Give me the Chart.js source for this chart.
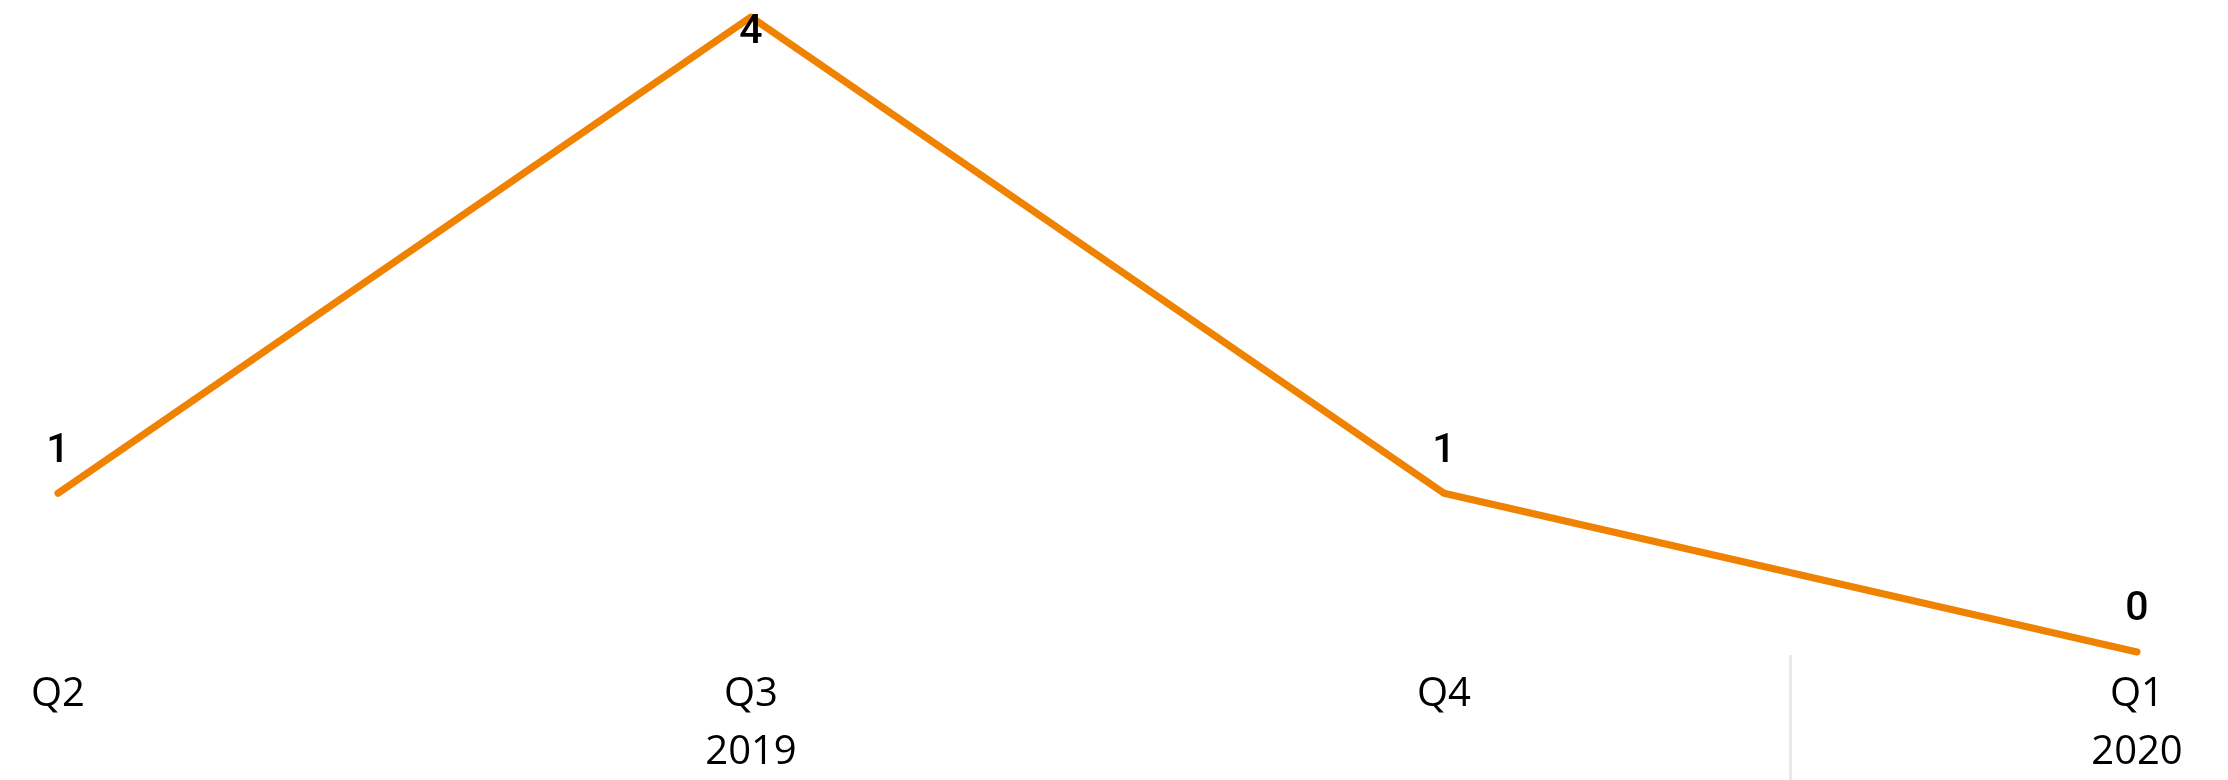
<!DOCTYPE html>
<html>
<head>
<meta charset="utf-8">
<script src="https://cdn.jsdelivr.net/npm/chart.js@4/dist/chart.umd.min.js"></script>
<style>
  html, body { margin: 0; padding: 0; background: #fff; }
  #wrap { width: 2228px; height: 780px; }
</style>
</head>
<body>
<div id="wrap"><canvas id="QuarterTrend"></canvas></div>
<script>
const quarters = ["Q2", "Q3", "Q4", "Q1"]
const quarterYears = ["2019", "2019", "2019", "2020"]
const counts = [1, 4, 1, 0]

const lineColor = "#EF8200"

// year shown once, under the middle quarter of its group
const yearRow = quarters.map((q, i) => {
    const yr = quarterYears[i]
    const idx = quarterYears.map((y, j) => y === yr ? j : -1).filter(j => j >= 0)
    const mid = idx[Math.floor((idx.length - 1) / 2)]
    return i === mid ? yr : ""
})

// value labels above each point, kept inside the canvas
const valueLabels = {
    id: "valueLabels",
    afterDatasetsDraw(chart) {
        const ctx = chart.ctx
        const meta = chart.getDatasetMeta(0)
        ctx.save()
        ctx.font = "500 41px Roboto"
        ctx.fillStyle = "#000"
        ctx.textAlign = "center"
        ctx.textBaseline = "middle"
        meta.data.forEach((pt, i) => {
            const y = Math.max(pt.y - 42, 33)
            ctx.fillText(String(counts[i]), pt.x, y)
        })
        ctx.restore()
    }
}

// thin divider where the year changes, under the plot
const yearDivider = {
    id: "yearDivider",
    afterDraw(chart) {
        const ctx = chart.ctx
        const x = chart.scales.x
        ctx.save()
        ctx.strokeStyle = "#E9E9E9"
        ctx.lineWidth = 3
        quarterYears.forEach((yr, i) => {
            if (i > 0 && yr !== quarterYears[i - 1]) {
                const px = (x.getPixelForValue(i - 1) + x.getPixelForValue(i)) / 2
                ctx.beginPath()
                ctx.moveTo(px, chart.chartArea.bottom + 3)
                ctx.lineTo(px, chart.height)
                ctx.stroke()
            }
        })
        ctx.restore()
    }
}

const labels = quarters.map((q, i) => [q, yearRow[i]])

new Chart("QuarterTrend", {
    type: "line",
    data: {
        labels: labels,
        datasets: [{
            data: counts,
            borderColor: lineColor,
            borderWidth: 7,
            borderCapStyle: "round",
            borderJoinStyle: "round",
            pointRadius: 0,
            tension: 0,
            fill: false,
            clip: false
        }]
    },
    options: {
        responsive: true,
        maintainAspectRatio: false,
        animation: false,
        layout: { padding: { left: 58, right: 91, top: 17, bottom: -16 } },
        plugins: {
            legend: { display: false },
            tooltip: { enabled: false }
        },
        scales: {
            x: {
                offset: false,
                grid: { display: false, drawTicks: false },
                border: { display: false },
                ticks: {
                    padding: 14,
                    maxRotation: 0,
                    autoSkip: false,
                    color: "#000",
                    font: { family: "'Open Sans'", size: 40, lineHeight: 1.45 }
                }
            },
            y: {
                display: false,
                min: 0,
                max: 4
            }
        }
    },
    plugins: [valueLabels, yearDivider]
})
</script>
</body>
</html>
